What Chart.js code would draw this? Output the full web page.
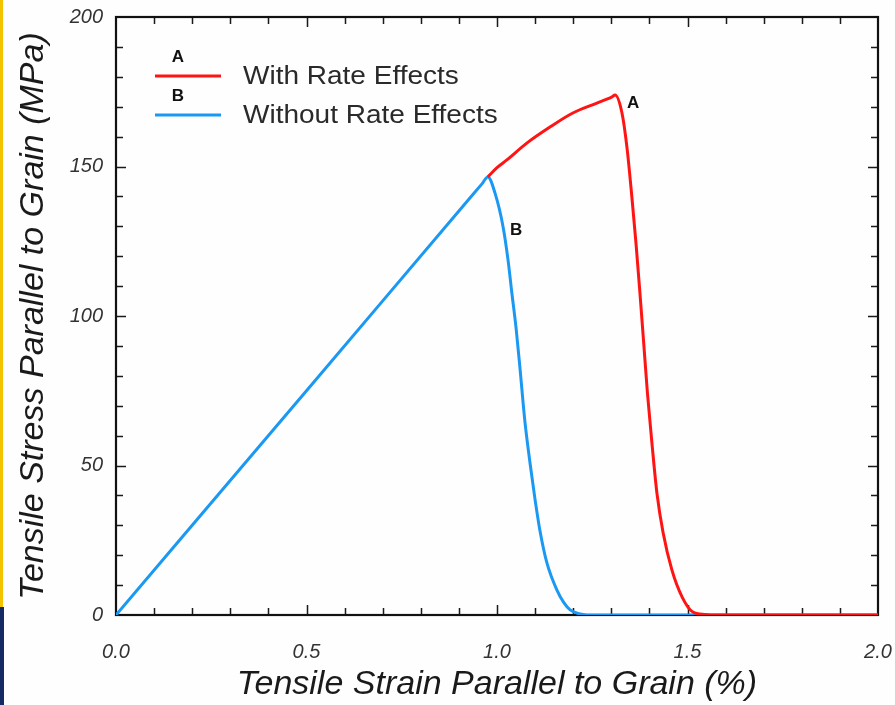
<!DOCTYPE html>
<html>
<head>
<meta charset="utf-8">
<script src="https://cdn.jsdelivr.net/npm/chart.js@4.4.0/dist/chart.umd.min.js"></script>
<style>
   html, body { margin: 0; padding: 0; background: #ffffff; }
   #wrap { width: 895px; height: 705px; position: relative; }
</style>
</head>
<body>
<div id="wrap"><canvas id="stress_strain_chart" width="895" height="705"></canvas></div>
<script>
   // strain in %, stress in MPa
   var strainA = [0.976, 1.0, 1.026, 1.079, 1.139, 1.199, 1.262, 1.290, 1.302, 1.310, 1.328, 1.341, 1.354, 1.365, 1.375, 1.385, 1.395, 1.407, 1.420, 1.436, 1.459, 1.486, 1.514, 1.545, 1.577, 2.0];
   var stressA = [146.5, 149.6, 152.2, 157.9, 163.2, 167.9, 171.2, 172.6, 173.3, 173.9, 167.9, 156.5, 139.8, 124.0, 108.0, 91.0, 74.0, 57.0, 40.5, 27.5, 15.1, 6.0, 1.0, 0.2, 0, 0];
   var strainB = [0, 0.5, 0.9, 0.96, 0.976, 0.995, 1.016, 1.029, 1.039, 1.050, 1.060, 1.073, 1.087, 1.100, 1.113, 1.131, 1.157, 1.175, 1.192, 1.215, 1.236, 2.0];
   var stressB = [0, 75.0, 135.1, 144.1, 146.5, 141.0, 129.8, 118.7, 107.7, 96.0, 83.0, 65.0, 50.5, 38.5, 28.0, 17.4, 8.4, 4.2, 1.7, 0.4, 0, 0];

   var seriesNames = ['With Rate Effects', 'Without Rate Effects'];
   var seriesTags = ['A', 'B'];
   var seriesColors = ['#ff1414', '#1b99f2'];
   // where the A / B tags sit on the curves (strain, stress)
   var tagStrain = [1.357, 1.05];
   var tagStress = [171.3, 128.5];

   var xTicks = [0, 0.5, 1.0, 1.5, 2.0];
   var yTicks = [0, 50, 100, 150, 200];
   var xTitle = 'Tensile Strain Parallel to Grain (%)';
   var yTitle = 'Tensile Stress Parallel to Grain (MPa)';

   function toPoints(xs, ys) {
      var pts = [];
      for (var i = 0; i < xs.length; i++) {
         pts.push({x: xs[i], y: ys[i]});
      }
      return pts;
   }

   // white page with the yellow / navy slide edge on the left
   var pagePlugin = {
      id: 'page_bg',
      beforeDraw: function (chart) {
         var ctx = chart.ctx;
         ctx.save();
         ctx.fillStyle = '#fefefe';
         ctx.fillRect(0, 0, chart.width, chart.height);
         ctx.fillStyle = '#f3c300';
         ctx.fillRect(0, 0, 3, 607);
         ctx.fillStyle = '#142a63';
         ctx.fillRect(0, 607, 4, chart.height - 607);
         ctx.restore();
      }
   };

   // box frame with inward ticks on all four sides
   var framePlugin = {
      id: 'frame_ticks',
      beforeDatasetsDraw: function (chart) {
         var ctx = chart.ctx;
         var a = chart.chartArea;
         var xs = chart.scales.x;
         var ys = chart.scales.y;
         ctx.save();
         ctx.strokeStyle = '#1a1a1a';
         ctx.lineWidth = 1.5;
         ctx.beginPath();
         for (var i = 1; i < 20; i++) {
            var v = i / 10;
            var px = Math.round(xs.getPixelForValue(v)) + 0.5;
            var len = (i % 5 === 0) ? 10 : 7;
            ctx.moveTo(px, a.bottom);
            ctx.lineTo(px, a.bottom - len);
            ctx.moveTo(px, a.top);
            ctx.lineTo(px, a.top + len);
         }
         for (var j = 1; j < 20; j++) {
            var py = Math.round(ys.getPixelForValue(j * 10)) + 0.5;
            var len2 = (j % 5 === 0) ? 10 : 7;
            ctx.moveTo(a.left, py);
            ctx.lineTo(a.left + len2, py);
            ctx.moveTo(a.right, py);
            ctx.lineTo(a.right - len2, py);
         }
         ctx.stroke();
         ctx.lineWidth = 2.2;
         ctx.strokeStyle = '#111111';
         ctx.strokeRect(a.left, a.top, a.right - a.left, a.bottom - a.top);
         ctx.restore();
      }
   };

   // legend (tag letter above each line sample) and curve tags
   var legendPlugin = {
      id: 'legend_tags',
      afterDraw: function (chart) {
         var ctx = chart.ctx;
         var xs = chart.scales.x;
         var ys = chart.scales.y;
         var rows = [76, 115];
         ctx.save();
         for (var i = 0; i < seriesNames.length; i++) {
            ctx.strokeStyle = seriesColors[i];
            ctx.lineWidth = 3;
            ctx.beginPath();
            ctx.moveTo(155, rows[i]);
            ctx.lineTo(221, rows[i]);
            ctx.stroke();

            ctx.fillStyle = '#111111';
            ctx.textBaseline = 'middle';
            ctx.textAlign = 'center';
            ctx.font = 'bold 17px "Liberation Sans", Arial, sans-serif';
            ctx.fillText(seriesTags[i], 178, rows[i] - 19);

            ctx.fillStyle = '#2a2a2a';
            ctx.textAlign = 'left';
            ctx.font = '25px "Liberation Sans", Arial, sans-serif';
            ctx.save();
            ctx.translate(243, rows[i] + 1);
            ctx.scale(1.12, 1);
            ctx.fillText(seriesNames[i], 0, 0);
            ctx.restore();

            // tag on the curve
            ctx.fillStyle = '#111111';
            ctx.textAlign = 'center';
            ctx.font = 'bold 17px "Liberation Sans", Arial, sans-serif';
            ctx.fillText(seriesTags[i], xs.getPixelForValue(tagStrain[i]), ys.getPixelForValue(tagStress[i]));
         }
         ctx.restore();
      }
   };

   var ctx = document.getElementById('stress_strain_chart').getContext('2d');
   var stress_chart = new Chart(ctx, {
      type: 'scatter',
      data: {
         datasets: [
            {
               label: seriesNames[0],
               data: toPoints(strainA, stressA),
               showLine: true,
               borderColor: seriesColors[0],
               backgroundColor: seriesColors[0],
               borderWidth: 3,
               pointRadius: 0,
               cubicInterpolationMode: 'monotone'
            },
            {
               label: seriesNames[1],
               data: toPoints(strainB, stressB),
               showLine: true,
               borderColor: seriesColors[1],
               backgroundColor: seriesColors[1],
               borderWidth: 3,
               pointRadius: 0,
               cubicInterpolationMode: 'monotone'
            }
         ]
      },
      options: {
         responsive: false,
         animation: false,
         layout: { padding: { top: 8, right: 0, bottom: 0, left: 0 } },
         plugins: {
            legend: { display: false },
            tooltip: { enabled: false }
         },
         scales: {
            x: {
               type: 'linear',
               min: 0,
               max: 2,
               afterFit: function (scale) {
                  scale.height = 90;
                  scale.paddingRight = 17;
                  scale.paddingLeft = 0;
               },
               afterBuildTicks: function (scale) {
                  scale.ticks = xTicks.map(function (v) { return {value: v}; });
               },
               grid: { display: false },
               border: { display: false },
               ticks: {
                  padding: 17,
                  color: '#333333',
                  font: { family: '"Liberation Sans", Arial, sans-serif', size: 20, style: 'italic' },
                  callback: function (v) { return Number(v).toFixed(1); }
               },
               title: {
                  display: true,
                  text: xTitle,
                  color: '#1a1a1a',
                  padding: { top: 0, bottom: 0 },
                  font: { family: '"Liberation Sans", Arial, sans-serif', size: 34, style: 'italic' }
               }
            },
            y: {
               type: 'linear',
               min: 0,
               max: 200,
               afterFit: function (scale) { scale.width = 116; },
               afterBuildTicks: function (scale) {
                  scale.ticks = yTicks.map(function (v) { return {value: v}; });
               },
               grid: { display: false },
               border: { display: false },
               ticks: {
                  padding: 5,
                  color: '#333333',
                  font: { family: '"Liberation Sans", Arial, sans-serif', size: 20, style: 'italic' },
                  callback: function (v) { return String(v); }
               },
               title: {
                  display: true,
                  text: yTitle,
                  color: '#1a1a1a',
                  padding: { top: 13, bottom: 0 },
                  font: { family: '"Liberation Sans", Arial, sans-serif', size: 34, style: 'italic' }
               }
            }
         }
      },
      plugins: [pagePlugin, framePlugin, legendPlugin]
   });
</script>
</body>
</html>
